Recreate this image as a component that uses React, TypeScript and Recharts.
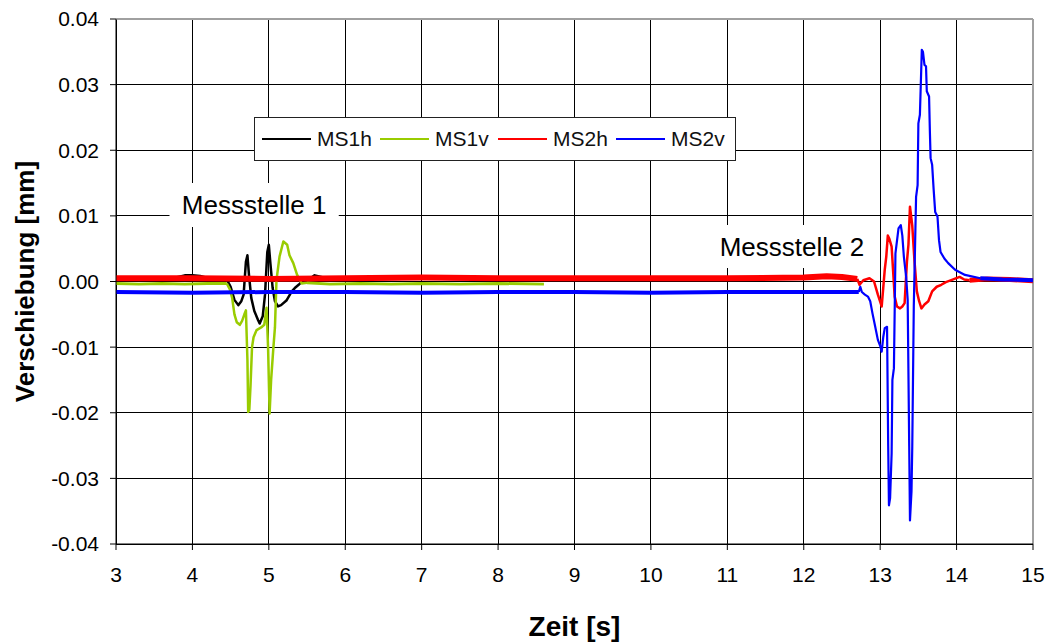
import React from 'react';
import {
  LineChart,
  Line,
  XAxis,
  YAxis,
  CartesianGrid,
  Legend,
  ReferenceArea,
  ReferenceLine,
} from 'recharts';

// [time s, displacement mm]
const MS1H_PRE = [
  [3.0, 0.0004], [3.2, 0.0005], [3.4, 0.0004], [3.6, 0.0005], [3.8, 0.0006],
  [3.9, 0.0009], [4.0, 0.0009], [4.1, 0.0008], [4.2, 0.0005], [4.35, 0.0004], [4.45, 0.0003],
];
const MS1H_EVENT = [
  [4.45, 0.0003], [4.5, -0.0008], [4.55, -0.0028], [4.6, -0.0036], [4.64, -0.003],
  [4.67, -0.002], [4.7, 0.003], [4.72, 0.004], [4.74, 0.001], [4.77, -0.0025],
  [4.81, -0.0045], [4.86, -0.0059], [4.88, -0.0064], [4.92, -0.0053], [4.95, -0.002],
  [4.98, 0.0045], [5.0, 0.0056], [5.02, 0.0028], [5.05, -0.001], [5.08, -0.003],
  [5.12, -0.0038], [5.16, -0.0036], [5.23, -0.0029], [5.3, -0.0015], [5.34, -0.001],
  [5.39, -0.0005], [5.45, 0.0002], [5.55, 0.0005],
];
const MS1H_POST = [
  [5.55, 0.0005], [5.6, 0.0009], [5.7, 0.0006], [6.0, 0.0005], [6.5, 0.0004],
  [7.0, 0.0005], [7.5, 0.0004], [8.0, 0.0005], [8.6, 0.0004],
];

const MS1V_PRE = [
  [3.0, -0.0003], [3.3, -0.0004], [3.6, -0.0003], [3.9, -0.0004], [4.2, -0.0003], [4.45, -0.0003],
];
const MS1V_EVENT = [
  [4.45, -0.0003], [4.49, -0.0012], [4.52, -0.0025], [4.55, -0.005], [4.58, -0.0062],
  [4.62, -0.0066], [4.65, -0.006], [4.68, -0.005], [4.7, -0.0044], [4.72, -0.012],
  [4.73, -0.0199], [4.745, -0.0195], [4.76, -0.016], [4.78, -0.01], [4.8, -0.0085],
  [4.84, -0.0074], [4.9, -0.007], [4.94, -0.0066], [4.97, -0.004], [4.99, -0.01],
  [5.01, -0.0201], [5.03, -0.015], [5.06, -0.01], [5.08, -0.007], [5.1, 0.0002],
  [5.14, 0.0038], [5.19, 0.0061], [5.24, 0.0056], [5.27, 0.004], [5.32, 0.0028],
  [5.37, 0.001], [5.43, -0.0003], [5.5, -0.0002],
];
const MS1V_POST = [
  [5.5, -0.0002], [5.8, -0.0004], [6.2, -0.0003], [6.6, -0.0004], [7.0, -0.0003],
  [7.5, -0.0004], [8.0, -0.0003], [8.6, -0.0004],
];

const MS2H_PRE = [
  [3.0, 0.0005], [4.0, 0.0005], [5.0, 0.0004], [6.0, 0.0005], [7.0, 0.0006],
  [8.0, 0.0005], [9.0, 0.0005], [10.0, 0.0005], [11.0, 0.0005], [12.0, 0.0006],
  [12.3, 0.0008], [12.5, 0.0007], [12.7, 0.0004],
];
const MS2H_EVENT = [
  [12.7, 0.0004], [12.73, -0.0005], [12.78, 0.0002], [12.86, 0.0005], [12.92, 0.0],
  [12.97, -0.002], [13.02, -0.0038], [13.04, -0.001], [13.06, 0.0018], [13.08, 0.0038],
  [13.1, 0.007], [13.12, 0.0065], [13.15, 0.0053], [13.17, 0.0015], [13.19, -0.0023],
  [13.22, -0.0038], [13.26, -0.0041], [13.29, -0.0038], [13.32, -0.0033], [13.35, 0.003],
  [13.37, 0.0056], [13.39, 0.0114], [13.41, 0.0095], [13.42, 0.0085], [13.45, 0.003],
  [13.48, -0.0015], [13.51, -0.003], [13.54, -0.0041], [13.58, -0.0035], [13.63, -0.003],
  [13.68, -0.0015], [13.74, -0.0008], [13.8, -0.0005], [13.86, -0.0001], [13.93, 0.0002],
  [14.04, 0.0007], [14.1, 0.0003], [14.17, 0.0002],
];
const MS2H_POST = [
  [14.17, 0.0002], [14.4, 0.0004], [14.7, 0.0003], [15.0, 0.0001],
];

const MS2V_PRE = [
  [3.0, -0.0016], [4.0, -0.0017], [5.0, -0.0016], [6.0, -0.0016], [7.0, -0.0017],
  [8.0, -0.0016], [9.0, -0.0016], [10.0, -0.0017], [11.0, -0.0016], [12.0, -0.0016],
  [12.72, -0.0016],
];
const MS2V_EVENT = [
  [12.72, -0.0016], [12.74, -0.0008], [12.76, -0.0016], [12.8, -0.002], [12.84, -0.0023],
  [12.87, -0.003], [12.9, -0.0049], [12.93, -0.0066], [12.97, -0.0089], [13.0, -0.0098],
  [13.02, -0.0107], [13.04, -0.0085], [13.06, -0.0071], [13.09, -0.0069], [13.105, -0.025],
  [13.115, -0.0341], [13.13, -0.033], [13.15, -0.0262], [13.16, -0.015], [13.18, -0.0132],
  [13.2, 0.0043], [13.24, 0.0081], [13.27, 0.0086], [13.29, 0.007], [13.31, 0.0038],
  [13.34, 0.0007], [13.36, -0.0028], [13.38, -0.025], [13.39, -0.0364], [13.41, -0.032],
  [13.42, -0.0252], [13.44, -0.0038], [13.47, 0.0129], [13.49, 0.0147], [13.5, 0.0241],
  [13.52, 0.0254], [13.545, 0.0353], [13.56, 0.035], [13.58, 0.033], [13.6, 0.0328],
  [13.61, 0.029], [13.64, 0.0282], [13.65, 0.0231], [13.66, 0.0188], [13.68, 0.0178],
  [13.7, 0.014], [13.72, 0.0106], [13.75, 0.0099], [13.77, 0.0063], [13.79, 0.0045],
  [13.84, 0.0035], [13.89, 0.0028], [13.98, 0.0018], [14.11, 0.001], [14.31, 0.0005],
];
const MS2V_POST = [
  [14.31, 0.0005], [14.6, 0.0003], [15.0, 0.0002],
];

const X_TICKS = [3, 4, 5, 6, 7, 8, 9, 10, 11, 12, 13, 14, 15];
const Y_TICKS = [-0.04, -0.03, -0.02, -0.01, 0, 0.01, 0.02, 0.03, 0.04];

const SERIES = [
  { name: 'MS1h', color: '#000000' },
  { name: 'MS1v', color: '#99cc00' },
  { name: 'MS2h', color: '#ff0000' },
  { name: 'MS2v', color: '#0000ff' },
];

const FONT = '"Liberation Sans", Arial, sans-serif';

const pts = (a: number[][]) => a.map(([t, v]) => ({ t, v }));

const LegendBox = () => (
  <div
    style={{
      boxSizing: 'border-box',
      width: 482,
      height: 44,
      border: '1px solid #222',
      background: '#fff',
      display: 'flex',
      alignItems: 'center',
      paddingLeft: 7,
      fontFamily: FONT,
    }}
  >
    {SERIES.map((s) => (
      <div key={s.name} style={{ display: 'flex', alignItems: 'center', width: 118 }}>
        <span style={{ display: 'inline-block', width: 49, borderTop: `2px solid ${s.color}`, marginRight: 6 }} />
        <span style={{ fontSize: 21, color: '#111' }}>{s.name}</span>
      </div>
    ))}
  </div>
);

const line = (key: string, data: number[][], color: string, width: number) => (
  <Line
    key={key}
    data={pts(data)}
    dataKey="v"
    type="linear"
    stroke={color}
    strokeWidth={width}
    strokeLinejoin="round"
    dot={false}
    activeDot={false}
    legendType="none"
    isAnimationActive={false}
  />
);

export default function App() {
  return (
    <div style={{ position: 'absolute', left: 0, top: 0, fontFamily: FONT }}>
      <LineChart width={1047} height={642} margin={{ top: 19, right: 14, left: 0, bottom: 0 }}>
        <CartesianGrid stroke="#000" strokeWidth={1} shapeRendering="crispEdges" />
        <XAxis
          dataKey="t"
          type="number"
          domain={[3, 15]}
          ticks={X_TICKS}
          height={98}
          stroke="#000"
          tickSize={6}
          tickMargin={17}
          tick={{ fill: '#000', fontSize: 21, fontFamily: FONT }}
          label={{ value: 'Zeit [s]', position: 'insideBottom', offset: 6, fontSize: 28, fontWeight: 'bold', fill: '#000', fontFamily: FONT }}
        />
        <YAxis
          type="number"
          domain={[-0.04, 0.04]}
          ticks={Y_TICKS}
          width={116}
          stroke="#000"
          tickSize={6}
          tickMargin={11}
          tickFormatter={(v: number) => v.toFixed(2)}
          tick={{ fill: '#000', fontSize: 21, fontFamily: FONT }}
          label={{ value: 'Verschiebung [mm]', angle: -90, position: 'insideLeft', offset: 25, textAnchor: 'middle', fontSize: 26, fontWeight: 'bold', fill: '#000', fontFamily: FONT }}
        />
        <ReferenceLine y={0.04} stroke="#a0a0a0" strokeWidth={2} />
        <ReferenceLine x={15} stroke="#a0a0a0" strokeWidth={2} />
        <ReferenceArea
          x1={3.7}
          x2={5.915}
          y1={0.0083}
          y2={0.015}
          fill="#fff"
          fillOpacity={1}
          stroke="none"
          ifOverflow="visible"
          label={{ value: 'Messstelle 1', position: 'center', fontSize: 26, fill: '#000', fontFamily: FONT }}
        />
        <ReferenceArea
          x1={10.8}
          x2={12.89}
          y1={0.00206}
          y2={0.0086}
          fill="#fff"
          fillOpacity={1}
          stroke="none"
          ifOverflow="visible"
          label={{ value: 'Messstelle 2', position: 'center', fontSize: 26, fill: '#000', fontFamily: FONT }}
        />
        {line('ms1h-pre', MS1H_PRE, '#000000', 3)}
        {line('ms1h-post', MS1H_POST, '#000000', 3)}
        {line('ms1h-event', MS1H_EVENT, '#000000', 2.5)}
        {line('ms1v-pre', MS1V_PRE, '#99cc00', 3)}
        {line('ms1v-post', MS1V_POST, '#99cc00', 3)}
        {line('ms1v-event', MS1V_EVENT, '#99cc00', 2.5)}
        {line('ms2h-pre', MS2H_PRE, '#ff0000', 6)}
        {line('ms2h-post', MS2H_POST, '#ff0000', 5)}
        {line('ms2h-event', MS2H_EVENT, '#ff0000', 2.5)}
        {line('ms2v-pre', MS2V_PRE, '#0000ff', 4)}
        {line('ms2v-post', MS2V_POST, '#0000ff', 4)}
        {line('ms2v-event', MS2V_EVENT, '#0000ff', 2.2)}
        <Legend
          layout="horizontal"
          verticalAlign="middle"
          align="center"
          content={() => <LegendBox />}
          wrapperStyle={{ left: 254, top: 117, width: 482, height: 44 }}
        />
      </LineChart>
    </div>
  );
}
